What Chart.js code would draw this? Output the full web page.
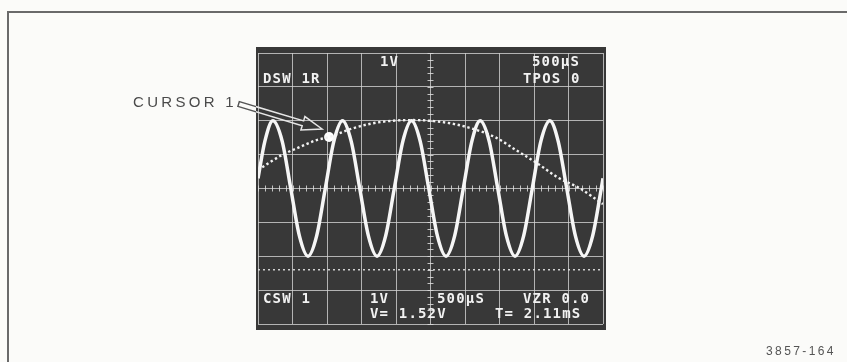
<!DOCTYPE html>
<html>
<head>
<meta charset="utf-8">
<script src="https://cdn.jsdelivr.net/npm/chart.js@4/dist/chart.umd.min.js"></script>
<style>
html, body { margin: 0; padding: 0; background: #fbfbf9; }
#wrap { position: relative; width: 847px; height: 362px; }
</style>
</head>
<body>
<div id="wrap"><canvas id="scope" width="847" height="362"></canvas></div>
<script>
// Everything is in graticule divisions: 10 across, 8 high (1 V/div, 500 µs/div)
const senoX = [0, 0.2, 0.43, 0.7, 0.95, 1.2, 1.45, 1.7, 1.95,
    2.2, 2.45, 2.7, 2.95, 3.2, 3.45, 3.7, 3.95,
    4.2, 4.45, 4.7, 4.95, 5.2, 5.45, 5.7, 5.95,
    6.2, 6.44, 6.7, 6.95, 7.2, 7.45, 7.7, 7.95,
    8.2, 8.46, 8.7, 8.95, 9.2, 9.45, 9.7, 9.95, 10];
const senoY = [0.3, 1.4, 2.0, 1.4, 0, -1.4, -2.0, -1.4, 0,
    1.4, 2.0, 1.4, 0, -1.4, -2.0, -1.4, 0,
    1.4, 2.0, 1.4, 0, -1.4, -2.0, -1.4, 0,
    1.4, 2.0, 1.4, 0, -1.4, -2.0, -1.4, 0,
    1.4, 2.0, 1.4, 0, -1.4, -2.0, -1.4, 0, 0.3];

// stored (dotted) trace
const memX = [0, 0.7, 1.2, 1.7, 2.06, 2.7, 3.3, 3.9, 4.5, 5.1, 5.7, 6.3, 6.9, 7.5, 8.1, 8.7, 9.3, 10];
const memY = [0.55, 0.99, 1.22, 1.43, 1.52, 1.76, 1.92, 2.0, 2.02, 1.99, 1.9, 1.74, 1.5, 1.12, 0.74, 0.32, 0.02, -0.46];

// cursor 1 sits on the stored trace, V = 1.52 V
const cursorX = [2.06];
const cursorY = [1.52];

// dotted reference level
const refX = [0, 10];
const refY = [-2.4, -2.4];

const leituraTopo = [['1V', 'DSW 1R'], ['500µS', 'TPOS 0']];
const leituraBase = [['CSW 1', ''], ['1V', 'V= 1.52V'], ['500µS', ''], ['VZR 0.0', 'T= 2.11mS']];

const pontos = (xs, ys) => xs.map((x, i) => ({ x: x, y: ys[i] }));

function textoMono(ctx, str, x, y, passo) {
    for (let i = 0; i < str.length; i++) {
        ctx.fillText(str[i], x + i * passo, y);
    }
}

function textoEspacado(ctx, str, x, y, extra) {
    let cx = x;
    for (const ch of str) {
        ctx.fillText(ch, cx, y);
        cx += ctx.measureText(ch).width + extra;
    }
    return cx - extra;
}

const fundo = {
    id: 'fundo',
    beforeDraw(chart) {
        const { ctx, chartArea: a } = chart;
        ctx.save();
        ctx.fillStyle = '#fbfbf9';
        ctx.fillRect(0, 0, chart.width, chart.height);
        // outer frame
        ctx.strokeStyle = '#6a6a6a';
        ctx.lineWidth = 2;
        ctx.beginPath();
        ctx.moveTo(8, 362);
        ctx.lineTo(8, 12);
        ctx.lineTo(847, 12);
        ctx.stroke();
        // CRT face
        ctx.fillStyle = '#383838';
        ctx.fillRect(a.left - 2, a.top - 6, a.right - a.left + 5, a.bottom - a.top + 12);
        ctx.restore();
    },
    beforeDatasetsDraw(chart) {
        const { ctx, scales: { x, y } } = chart;
        ctx.save();
        ctx.strokeStyle = 'rgba(220,220,220,0.85)';
        ctx.lineWidth = 1;
        const cx = x.getPixelForValue(5), cy = y.getPixelForValue(0);
        ctx.beginPath();
        for (let v = 0; v <= 10.001; v += 0.2) {
            const px = Math.round(x.getPixelForValue(v)) + 0.5;
            ctx.moveTo(px, cy - 3);
            ctx.lineTo(px, cy + 3);
        }
        for (let v = -4; v <= 4.001; v += 0.2) {
            const py = Math.round(y.getPixelForValue(v)) + 0.5;
            ctx.moveTo(cx - 3, py);
            ctx.lineTo(cx + 3, py);
        }
        ctx.stroke();
        ctx.restore();
    },
    afterDraw(chart) {
        const { ctx, chartArea: a, scales: { x, y } } = chart;
        ctx.save();
        // readouts
        ctx.fillStyle = '#f2f2f2';
        ctx.font = 'bold 14px "DejaVu Sans Mono"';
        ctx.textBaseline = 'alphabetic';
        const passo = 9.6;
        textoMono(ctx, leituraTopo[0][0], 380, 66, passo);
        textoMono(ctx, leituraTopo[1][0], 532, 66, passo);
        textoMono(ctx, leituraTopo[0][1], 263, 83, passo);
        textoMono(ctx, leituraTopo[1][1], 523, 83, passo);
        const colunas = [263, 370, 437, 523];
        leituraBase.forEach((c, i) => {
            textoMono(ctx, c[0], colunas[i], 303, passo);
        });
        textoMono(ctx, leituraBase[1][1], 370, 318, passo);
        textoMono(ctx, leituraBase[3][1], 495, 318, passo);

        // label and arrow pointing at the cursor
        ctx.fillStyle = '#4a4a4a';
        ctx.font = '15px "Liberation Sans"';
        const fim = textoEspacado(ctx, 'CURSOR 1', 133, 107, 3.3);

        const px = x.getPixelForValue(cursorX[0]);
        const py = y.getPixelForValue(cursorY[0]);
        const tip = { x: px - 7, y: py - 8 };
        const tail = { x: fim + 5, y: 104 };
        const dx = tip.x - tail.x, dy = tip.y - tail.y;
        const len = Math.hypot(dx, dy);
        const u = { x: dx / len, y: dy / len };
        const n = { x: -u.y, y: u.x };
        const w = 2.5, h = 7, L = 20;
        const base = { x: tip.x - u.x * L, y: tip.y - u.y * L };
        const seta = [
            [tail.x + n.x * w, tail.y + n.y * w],
            [base.x + n.x * w, base.y + n.y * w],
            [base.x + n.x * h, base.y + n.y * h],
            [tip.x, tip.y],
            [base.x - n.x * h, base.y - n.y * h],
            [base.x - n.x * w, base.y - n.y * w],
            [tail.x - n.x * w, tail.y - n.y * w]
        ];
        const tracarSeta = () => {
            ctx.beginPath();
            seta.forEach((p, i) => i ? ctx.lineTo(p[0], p[1]) : ctx.moveTo(p[0], p[1]));
            ctx.closePath();
            ctx.stroke();
        };
        const sx = a.left - 2, sy = a.top - 6, sw = a.right - a.left + 5, sh = a.bottom - a.top + 12;
        ctx.lineWidth = 1.5;
        ctx.save();
        ctx.beginPath();
        ctx.rect(0, 0, chart.width, chart.height);
        ctx.rect(sx, sy, sw, sh);
        ctx.clip('evenodd');
        ctx.strokeStyle = '#555';
        tracarSeta();
        ctx.restore();
        ctx.save();
        ctx.beginPath();
        ctx.rect(sx, sy, sw, sh);
        ctx.clip();
        ctx.strokeStyle = '#e6e6e6';
        tracarSeta();
        ctx.restore();

        // figure number
        ctx.fillStyle = '#555';
        ctx.font = '12px "Liberation Sans"';
        textoEspacado(ctx, '3857-164', 766, 355, 2.4);
        ctx.restore();
    }
};

new Chart(document.getElementById('scope'), {
    type: 'line',
    data: {
        datasets: [
            {
                label: 'ref',
                data: pontos(refX, refY),
                borderColor: 'rgba(225,225,225,0.9)',
                borderWidth: 1.5,
                borderDash: [2, 3],
                pointRadius: 0
            },
            {
                label: 'memória',
                data: pontos(memX, memY),
                borderColor: '#f2f2f2',
                borderWidth: 2.4,
                borderDash: [2.4, 2.6],
                cubicInterpolationMode: 'monotone',
                pointRadius: 0
            },
            {
                label: 'senoide',
                data: pontos(senoX, senoY),
                borderColor: '#f6f6f6',
                borderWidth: 3.5,
                cubicInterpolationMode: 'monotone',
                pointRadius: 0
            },
            {
                label: 'cursor',
                data: pontos(cursorX, cursorY),
                showLine: false,
                pointRadius: 5,
                pointBackgroundColor: '#ffffff',
                pointBorderWidth: 0
            }
        ]
    },
    options: {
        responsive: false,
        animation: false,
        events: [],
        layout: { padding: { left: 258, top: 53, right: 244, bottom: 38 } },
        plugins: { legend: { display: false }, tooltip: { enabled: false } },
        scales: {
            x: {
                type: 'linear',
                min: 0,
                max: 10,
                ticks: { display: false, stepSize: 1 },
                border: { display: false },
                grid: { color: 'rgba(210,210,210,0.8)', lineWidth: 1, drawTicks: false }
            },
            y: {
                type: 'linear',
                min: -4,
                max: 4,
                ticks: { display: false, stepSize: 1 },
                border: { display: false },
                grid: { color: 'rgba(210,210,210,0.8)', lineWidth: 1, drawTicks: false }
            }
        }
    },
    plugins: [fundo]
});
</script>
</body>
</html>
